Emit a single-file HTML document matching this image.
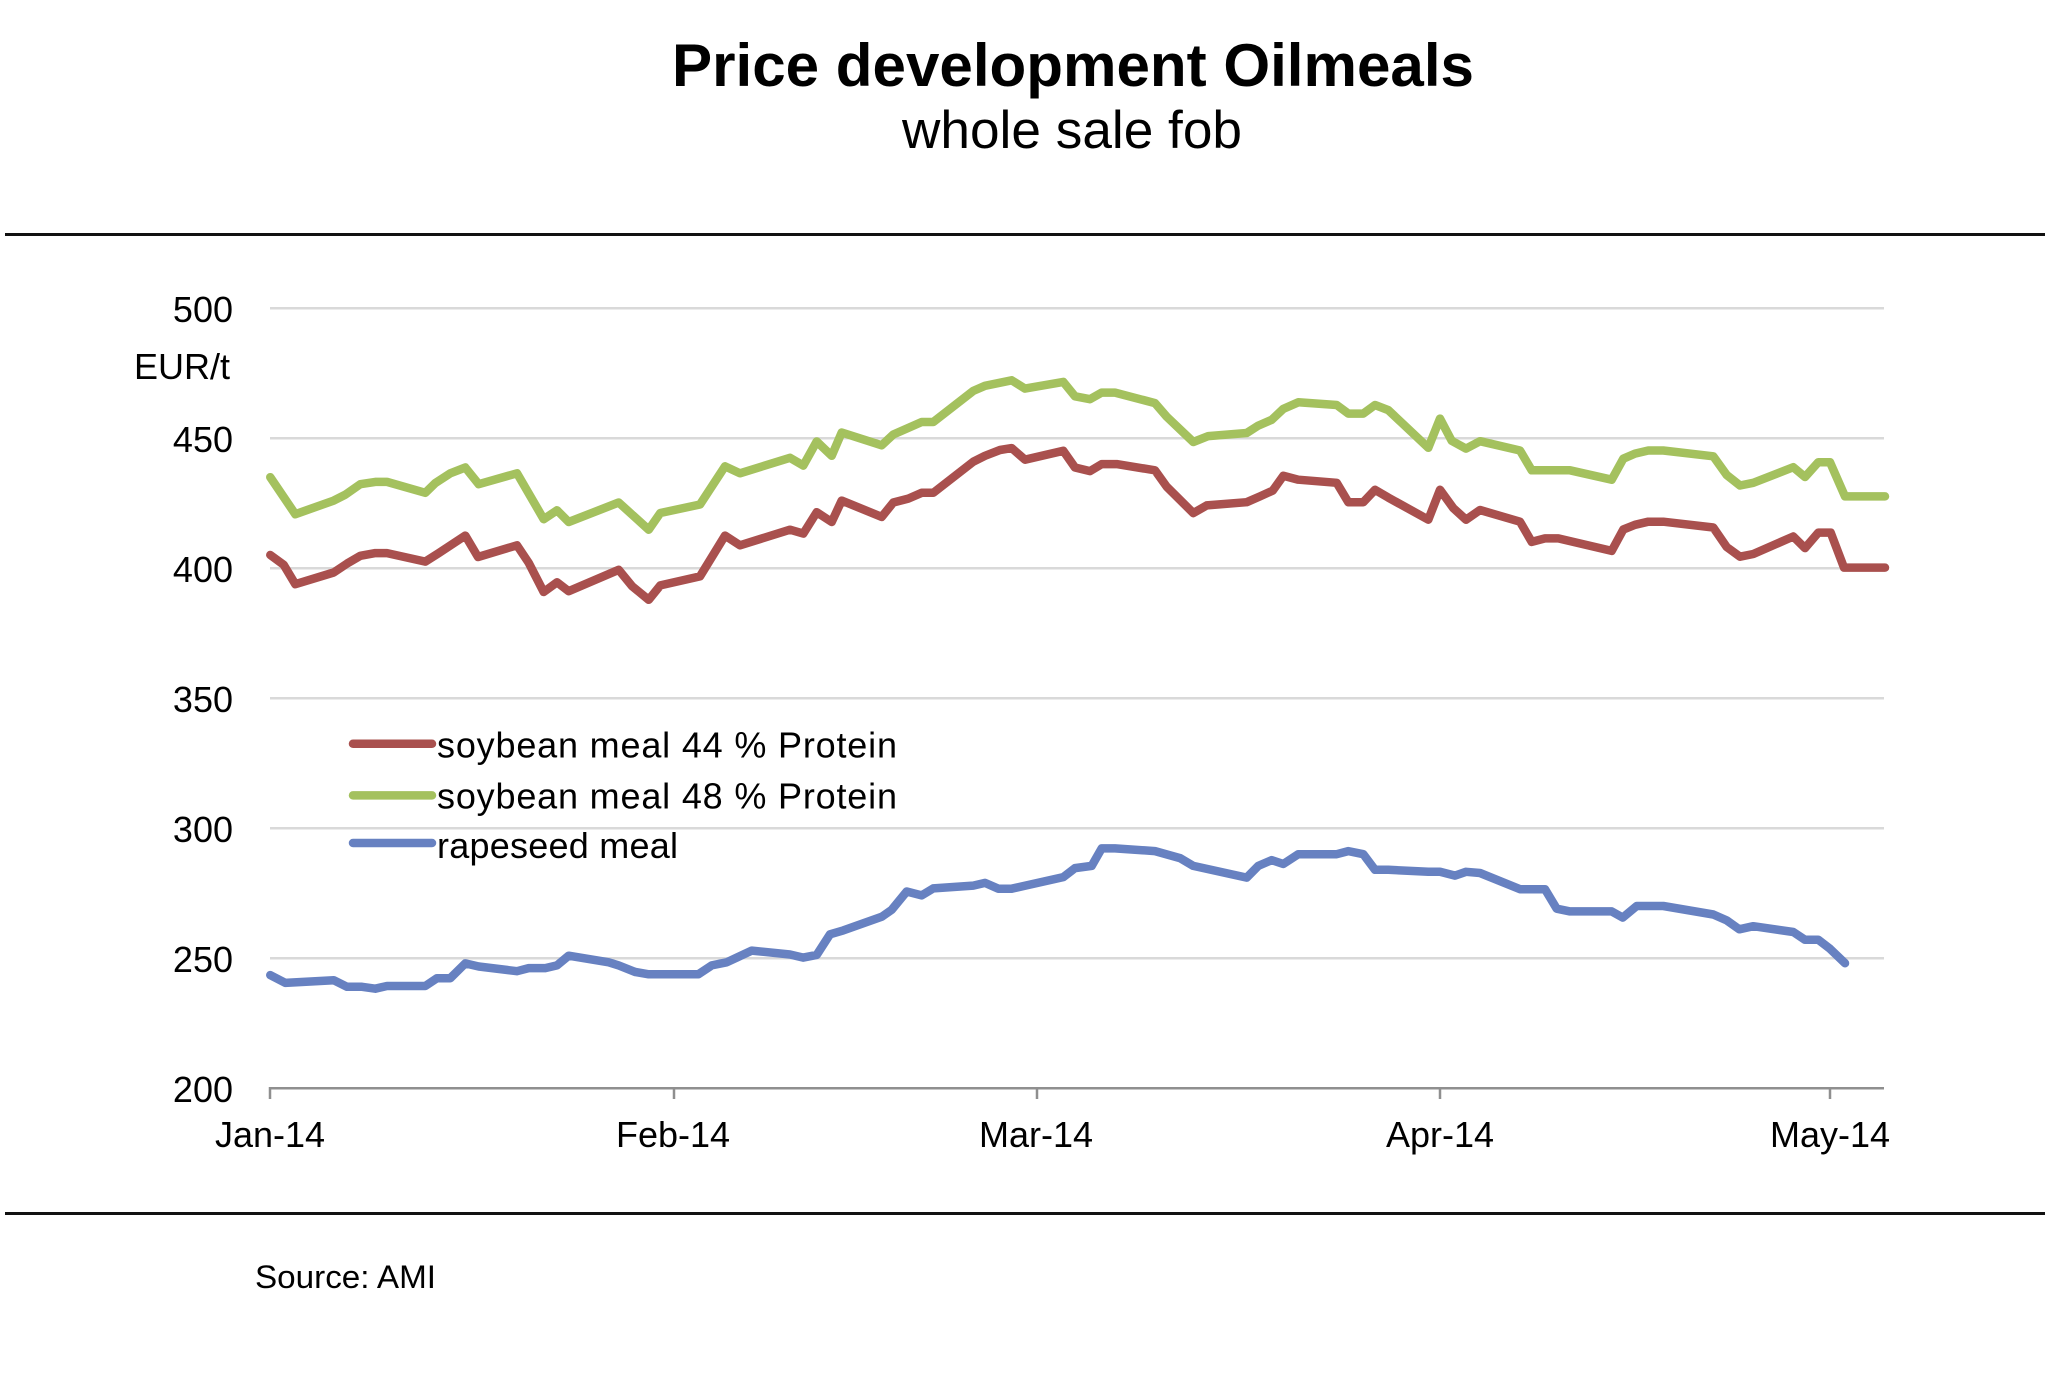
<!DOCTYPE html>
<html>
<head>
<meta charset="utf-8">
<style>
  html, body { margin: 0; padding: 0; background: #ffffff; }
  body { width: 2048px; height: 1400px; overflow: hidden; }
  svg { display: block; }
  text { font-family: "Liberation Sans", Arial, sans-serif; fill: #000; }
</style>
</head>
<body>
<svg width="2048" height="1400" viewBox="0 0 2048 1400" xmlns="http://www.w3.org/2000/svg">
  <rect x="0" y="0" width="2048" height="1400" fill="#ffffff"/>

  <!-- Title -->
  <text x="672" y="86" font-size="60" font-weight="bold" textLength="802" lengthAdjust="spacingAndGlyphs">Price development Oilmeals</text>
  <text x="902" y="148" font-size="53" textLength="340" lengthAdjust="spacingAndGlyphs">whole sale fob</text>

  <!-- Rules -->
  <rect x="5" y="233" width="2040" height="3" fill="#111"/>
  <rect x="5" y="1212" width="2040" height="3" fill="#111"/>

  <!-- Gridlines -->
  <g stroke="#d9d9d9" stroke-width="2.5">
    <line x1="270" y1="308.3" x2="1884" y2="308.3"/>
    <line x1="270" y1="438.3" x2="1884" y2="438.3"/>
    <line x1="270" y1="568.3" x2="1884" y2="568.3"/>
    <line x1="270" y1="698.3" x2="1884" y2="698.3"/>
    <line x1="270" y1="828.3" x2="1884" y2="828.3"/>
    <line x1="270" y1="958.3" x2="1884" y2="958.3"/>
  </g>

  <!-- X axis -->
  <g stroke="#8f8f8f" stroke-width="2.5">
    <line x1="269" y1="1088.3" x2="1884" y2="1088.3"/>
    <line x1="270" y1="1087" x2="270" y2="1099"/>
    <line x1="674" y1="1087" x2="674" y2="1099"/>
    <line x1="1037" y1="1087" x2="1037" y2="1099"/>
    <line x1="1440" y1="1087" x2="1440" y2="1099"/>
    <line x1="1830" y1="1087" x2="1830" y2="1099"/>
  </g>

  <!-- Y tick labels -->
  <g font-size="36" text-anchor="end">
    <text x="233" y="322">500</text>
    <text x="233" y="452">450</text>
    <text x="233" y="582">400</text>
    <text x="233" y="712">350</text>
    <text x="233" y="842">300</text>
    <text x="233" y="972">250</text>
    <text x="233" y="1102">200</text>
  </g>
  <text x="134" y="379" font-size="36">EUR/t</text>

  <!-- X tick labels -->
  <g font-size="36" text-anchor="middle">
    <text x="270" y="1147">Jan-14</text>
    <text x="673" y="1147">Feb-14</text>
    <text x="1036" y="1147">Mar-14</text>
    <text x="1440" y="1147">Apr-14</text>
    <text x="1830" y="1147">May-14</text>
  </g>

  <!-- Series -->
  <g fill="none" stroke-width="8.5" stroke-linejoin="round" stroke-linecap="round">
    <polyline stroke="#a4c15e" points="270.3,477.2 295.3,514.2 333.7,500.6 345.3,494.7 360.3,484.2 375.3,481.9 387,481.9 425.3,492.8 435.3,483.1 450.3,473.3 465.3,467.5 478.7,484.2 517,473.3 543.7,519.2 557,510.3 568.7,522 618.7,502.5 648.7,529.7 660.3,513 700,504.5 725,466.3 740,473.3 790,457.8 803.3,465.6 816.7,441.5 831.7,455.8 841.7,432.5 881.7,445.3 893.3,434.5 921.7,422 933.3,422 973.3,390.9 985,385.8 1011.7,380.3 1025,388.6 1063.3,381.9 1075,396.3 1090,399.2 1101.7,392.6 1115,392.6 1155,403.1 1166.7,416.7 1193.3,442 1208.3,436.1 1246.7,433 1258.3,425.6 1271.7,419.8 1283.3,408.9 1298.3,402.3 1336.7,405 1348.3,413.6 1363.3,413.6 1375,405 1388.3,410.1 1428.3,447.8 1440,418.6 1451.7,440.8 1466,448.6 1480,441.2 1520,450.5 1531.7,470.3 1570,470.3 1611.7,479.7 1623.3,458.7 1635,453.6 1648.3,450.5 1663.3,450.5 1713.3,456.3 1726.7,475 1740,485.5 1753.3,482.8 1793.3,467.2 1805,477 1818.3,462.2 1830,462.2 1845,496.4 1885,496.4"/>
    <polyline stroke="#a9504e" points="270.3,555 283.7,564.8 295.3,584.2 333.7,572.5 347,563.6 360.3,555.8 375.3,553.1 387,553.1 425.3,561.6 438.7,553.1 465.3,535.6 478,557 517,545.3 528.7,562.8 543.7,592 557,582.3 568.7,591.2 618.7,569.8 632,586.1 648.7,599.8 660.3,585.4 700,576.4 725,535.6 740,545.3 790,529.7 803.3,533.6 816.7,512.2 831.7,522 841.7,500.6 881.7,516.9 893.3,502.5 908.3,498.6 921.7,492.8 933.3,492.8 973.3,461.7 985,455.8 1000,450 1011.7,448.1 1025,459.7 1063.3,450.8 1075,467.5 1090,471.1 1101.7,464.1 1116.7,464.1 1155,470.3 1166.7,486.7 1193.3,513.1 1206.7,505.4 1246.7,502.2 1260,496.4 1272.7,490.6 1283.3,475.8 1298.3,479.7 1336.7,482.8 1348.3,502.2 1363.3,502.2 1375,489.8 1388.3,497.6 1428.3,519.7 1440,489.8 1453.3,508.1 1466,519.7 1480,510 1520,521.7 1531.7,541.9 1545,538.4 1558.3,538.4 1611.7,550.9 1623.3,529.5 1635,524.8 1648.3,521.7 1663.3,521.7 1713.3,527.5 1726.7,547 1740,556.7 1753.3,554 1793.3,536.5 1805,548.1 1818.3,532.6 1830.7,532.6 1844,567.6 1885,567.6"/>
    <polyline stroke="#6781c1" points="270.3,975.1 285.3,982.9 333.7,980.2 347,986.8 362,986.8 375.3,988.7 387,986 425.3,986 437,978.2 450.3,978.2 465.3,963.4 478.7,966.5 517,971.2 528.7,968.1 545.3,968.1 557,965.4 568.7,955.7 608.7,962.3 618.7,965.4 635.3,972 648.7,974.3 698.3,974.3 711.7,965.4 726.7,962.3 736.7,957.6 751.7,950.6 790,954.5 803.3,957.6 816.7,954.9 830,934.3 843.3,930.4 881.7,916.8 891.7,909.8 906.7,891.5 921.7,895.4 933.3,888.4 973.3,885.6 985,882.9 998.3,888.7 1011.7,888.7 1063.3,877.1 1075,868.1 1091.7,865.9 1101.7,848.4 1115,848.4 1155,851.1 1180,858.1 1193.3,865.9 1246.7,877.6 1258.3,865.9 1271.7,860.1 1283.3,864 1298.3,854.2 1336.7,854.2 1348.3,851.1 1363.3,854.2 1375,869.8 1388.3,869.8 1428.3,871.8 1440,871.8 1455,875.6 1466,871.8 1480,873 1520,889.2 1545,889.2 1556.7,908.7 1570,911.4 1611.7,911.4 1622.7,917.6 1636.7,906 1663.3,906 1713.3,914.5 1726.7,920.4 1739.3,929.3 1753.3,926.2 1793.3,932 1805,939.8 1818.3,939.8 1830,948.8 1845,963.2"/>
  </g>

  <!-- Legend -->
  <g stroke-width="8.5" stroke-linecap="round">
    <line x1="353" y1="743.7" x2="432" y2="743.7" stroke="#a9504e"/>
    <line x1="353" y1="795.4" x2="432" y2="795.4" stroke="#a4c15e"/>
    <line x1="353" y1="843" x2="432" y2="843" stroke="#6781c1"/>
  </g>
  <g font-size="36">
    <text x="437" y="757.5" textLength="460" lengthAdjust="spacing">soybean meal 44 % Protein</text>
    <text x="437" y="808.5" textLength="460" lengthAdjust="spacing">soybean meal 48 % Protein</text>
    <text x="437" y="858" textLength="241" lengthAdjust="spacing">rapeseed meal</text>
  </g>

  <!-- Source -->
  <text x="255" y="1288" font-size="32" textLength="181" lengthAdjust="spacingAndGlyphs">Source: AMI</text>
</svg>
</body>
</html>
